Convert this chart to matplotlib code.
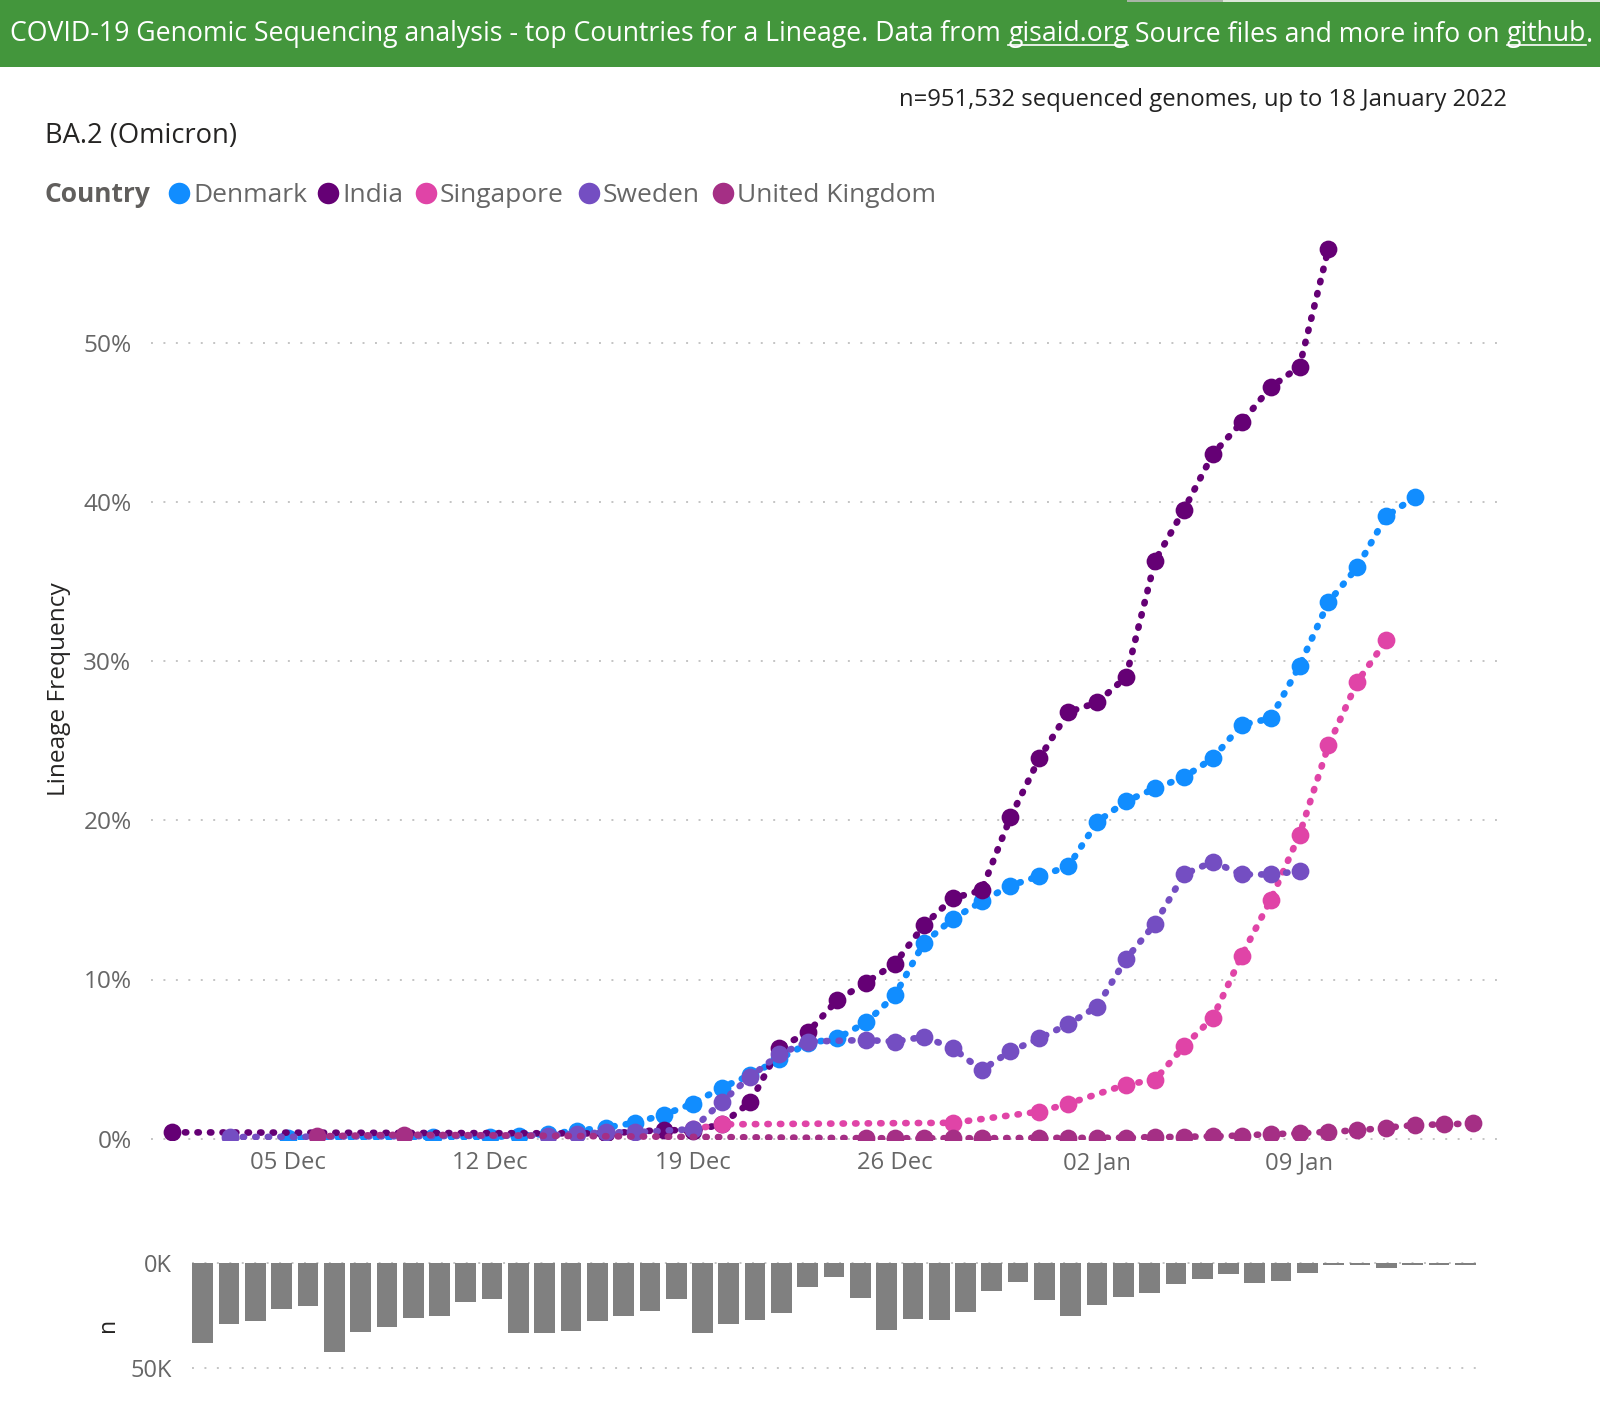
#!/usr/bin/env python

"""
BA.2 (Omicron) lineage frequency by country, with the daily number of
sequenced genomes as an upside down bar chart underneath.
"""

import matplotlib
matplotlib.use("Agg")
import matplotlib.pyplot as plt
from matplotlib.patches import Rectangle

plt.rcParams["font.family"] = ["Open Sans", "DejaVu Sans"]

WIDTH = 1600
HEIGHT = 1410

# days are counted from 01 Dec 2021
denmark_days = [4, 9, 11, 12, 13, 14, 15, 16, 17, 18, 19, 20, 21, 22, 23, 24, 25, 26, 27, 28,
                29, 30, 31, 32, 33, 34, 35, 36, 37, 38, 39, 40, 41, 42, 43]
denmark_vals = [0.05, 0.1, 0.1, 0.2, 0.3, 0.5, 0.7, 1.0, 1.5, 2.2, 3.2, 4.0, 5.0, 6.0, 6.3, 7.3, 9.0, 12.3, 13.8, 14.9,
                15.9, 16.5, 17.1, 19.9, 21.2, 22.0, 22.7, 23.9, 26.0, 26.4, 29.7, 33.7, 35.9, 39.1, 40.3]

india_days = [0, 15, 17, 18, 19, 20, 21, 22, 23, 24, 25, 26, 27, 28, 29, 30, 31, 32, 33, 34, 35, 36, 37, 38, 39, 40]
india_vals = [0.4, 0.33, 0.55, 0.5, 0.9, 2.3, 5.7, 6.7, 8.7, 9.8, 11.0, 13.4, 15.1, 15.6, 20.2, 23.9, 26.8, 27.4,
              29.0, 36.3, 39.5, 43.0, 45.0, 47.2, 48.5, 55.9]

singapore_days = [18, 19, 27, 30, 31, 33, 34, 35, 36, 37, 38, 39, 40, 41, 42]
singapore_vals = [0.6, 0.9, 1.0, 1.7, 2.2, 3.4, 3.7, 5.8, 7.6, 11.5, 15.0, 19.1, 24.7, 28.7, 31.3]

sweden_days = [2, 13, 14, 15, 16, 18, 19, 20, 21, 22, 24, 25, 26, 27, 28, 29, 30, 31, 32, 33, 34, 35, 36, 37, 38, 39]
sweden_vals = [0.1, 0.2, 0.3, 0.4, 0.4, 0.6, 2.3, 3.9, 5.3, 6.1, 6.2, 6.1, 6.4, 5.7, 4.3, 5.5, 6.3, 7.2, 8.3, 11.3,
               13.5, 16.6, 17.4, 16.6, 16.6, 16.8]

uk_days = [5, 8, 24, 25, 26, 27, 28, 30, 31, 32, 33, 34, 35, 36, 37, 38, 39, 40, 41, 42, 43, 44, 45]
uk_vals = [0.15, 0.25, 0.03, 0.03, 0.03, 0.03, 0.03, 0.05, 0.05, 0.05, 0.07, 0.1, 0.12, 0.15, 0.2, 0.29, 0.33,
           0.44, 0.52, 0.69, 0.86, 0.9, 0.96]

countries = ["Denmark", "India", "Singapore", "Sweden", "United Kingdom"]
colors = ["#118DFF", "#650075", "#E044A7", "#744EC2", "#A52F85"]

date_ticks = [4, 11, 18, 25, 32, 39]
date_labels = ["05 Dec", "12 Dec", "19 Dec", "26 Dec", "02 Jan", "09 Jan"]
pct_ticks = [0, 10, 20, 30, 40, 50]

# genomes per day, in thousands
n_vals = [37.8, 29.1, 27.5, 22.0, 20.4, 42.4, 32.6, 30.2, 25.9, 25.0, 18.4, 17.2, 33.2, 33.1, 32.3, 27.5, 25.2,
          22.8, 17.2, 33.1, 29.1, 27.2, 23.9, 11.6, 6.8, 16.8, 31.8, 26.4, 27.2, 23.4, 13.1, 8.9, 17.7, 25.2, 20.1,
          16.0, 14.4, 9.8, 7.6, 5.2, 9.7, 8.5, 4.9, 1.0, 1.0, 2.2, 0.8, 0.8, 0.9]

GRAY_TEXT = "#666666"
GRID = (0, (1, 5.4))


def px_axes(fig, left, top, right, bottom):
    """axes from pixel edges, measured from the top left of the picture"""
    return fig.add_axes([left / WIDTH, 1 - bottom / HEIGHT, (right - left) / WIDTH, (bottom - top) / HEIGHT])


def px_text(fig, x, y, s, **kwargs):
    kwargs.setdefault("va", "center")
    return fig.text(x / WIDTH, 1 - y / HEIGHT, s, **kwargs)


def clean_axes(ax):
    for spine in ax.spines.values():
        spine.set_visible(False)
    ax.set_facecolor("none")


fig = plt.figure(figsize=(WIDTH / 100, HEIGHT / 100), dpi=100, facecolor="white")

# green banner with two underlined links
fig.add_artist(Rectangle((0, 1 - 67 / HEIGHT), 1, 67 / HEIGHT, transform=fig.transFigure, color="#43963C", lw=0))
fig.add_artist(Rectangle((1127 / WIDTH, 1 - 2 / HEIGHT), 96 / WIDTH, 2 / HEIGHT, transform=fig.transFigure,
                         color="#A9B5A7", lw=0))
fig.add_artist(Rectangle((1223 / WIDTH, 1 - 2 / HEIGHT), 377 / WIDTH, 2 / HEIGHT, transform=fig.transFigure,
                         color="#DDE8DA", lw=0))
BANNER_SIZE = 19.2
banner = [
    ("COVID-19 Genomic Sequencing analysis - top Countries for a Lineage. Data from ", False),
    ("gisaid.org", True),
    (" Source files and more info on ", False),
    ("github", True),
    (".", False),
]
renderer = fig.canvas.get_renderer()
x = 10.5
for part, underlined in banner:
    t = px_text(fig, x, 31, part, color="white", fontsize=BANNER_SIZE, ha="left", va="center_baseline")
    # non breaking spaces so the trailing space counts in the width
    probe = fig.text(0, 0, part.replace(" ", "\u00a0"), fontsize=BANNER_SIZE)
    w = probe.get_window_extent(renderer).width
    probe.remove()
    if underlined:
        fig.add_artist(plt.Line2D([x / WIDTH, (x + w) / WIDTH], [1 - 44.5 / HEIGHT] * 2, color="white", lw=1.2,
                                  transform=fig.transFigure))
    x += w

px_text(fig, 1507, 100, "n=951,532 sequenced genomes, up to 18 January 2022", ha="right", fontsize=17.2, color="#222222")
px_text(fig, 45, 136, "BA.2 (Omicron)", fontsize=19.7, color="#252423")

# legend
px_text(fig, 45, 195, "Country", fontsize=19, fontweight="bold", color="#605E5C")
legend_x = [179, 328, 426, 589, 723]
for name, col, lx in zip(countries, colors, legend_x):
    fig.add_artist(plt.Line2D([lx / WIDTH], [1 - 193 / HEIGHT], marker="o", ms=15.5, color=col, mew=0,
                              transform=fig.transFigure))
    px_text(fig, lx + 14, 196, name, fontsize=19, color=GRAY_TEXT)

# main chart: x in days and y in percent, both set from the pixel scale
left, right = 151, 1499
x0 = (left - 172.4) / 28.9
x1 = (right - 172.4) / 28.9
top, bottom = 225, 1140
y0 = -(bottom - 1138.7) / 15.92
y1 = (1138.7 - top) / 15.92

ax = px_axes(fig, left, top, right, bottom)
clean_axes(ax)
ax.set_xlim(x0, x1)
ax.set_ylim(y0, y1)
ax.yaxis.grid(True, color="#C4C4C4", lw=1.4, linestyle=GRID)
ax.set_axisbelow(True)

series = [
    (denmark_days, denmark_vals),
    (india_days, india_vals),
    (singapore_days, singapore_vals),
    (sweden_days, sweden_vals),
    (uk_days, uk_vals),
]
for (days, vals), col in zip(series, colors):
    ax.plot(days, vals, color=col, lw=4.8, linestyle=(0, (0.2, 1.68)), dash_capstyle="round",
            solid_joinstyle="round", zorder=3)
    ax.plot(days, vals, linestyle="none", marker="o", ms=12.8, mew=0, color=col, zorder=3)

ax.set_xticks(date_ticks)
ax.set_xticklabels(date_labels, fontsize=17.2, color=GRAY_TEXT)
ax.set_yticks(pct_ticks)
ax.set_yticklabels(["{}%".format(p) for p in pct_ticks], fontsize=17.6, color=GRAY_TEXT)
ax.tick_params(axis="both", length=0)
ax.tick_params(axis="x", pad=8)
ax.tick_params(axis="y", pad=14)
px_text(fig, 59, 689, "Lineage Frequency", rotation=90, ha="center", fontsize=17.6, color="#252423")

# n bars, hanging from the 0K line
bar_ax = px_axes(fig, 192, 1263, 1476, 1368.3)
clean_axes(bar_ax)
bar_pos = list(range(len(n_vals)))
bar_ax.bar(bar_pos, n_vals, width=0.79, color="#808080", zorder=3)
bar_ax.set_xlim((192 - 202.8) / 26.3, (1476 - 202.8) / 26.3)
bar_ax.set_ylim(50, 0)
bar_ax.set_yticks([0, 50])
bar_ax.set_yticklabels(["0K", "50K"], fontsize=17, color=GRAY_TEXT)
bar_ax.set_xticks([])
bar_ax.tick_params(axis="y", length=0, pad=14.5)
bar_ax.yaxis.grid(True, color="#C4C4C4", lw=1.4, linestyle=GRID, clip_on=False)
bar_ax.set_axisbelow(True)
px_text(fig, 108, 1325, "n", rotation=90, ha="center", fontsize=16.5, color="#252423")

fig.savefig("out.png", dpi=100)
